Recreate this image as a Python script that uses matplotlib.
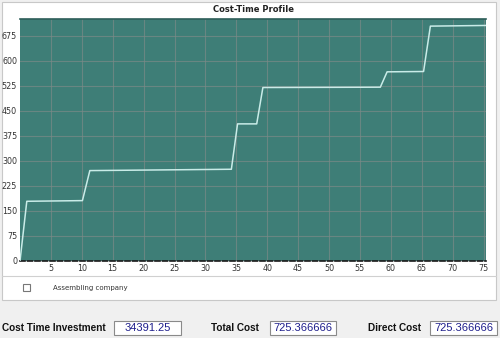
import matplotlib
matplotlib.use("Agg")
import matplotlib.pyplot as plt
from matplotlib.patches import Rectangle

# cost-time profile
days = [0, 1.1, 10.1, 11.3, 34.2, 35.2, 38.3, 39.3, 58.3, 59.4, 65.3, 66.4, 75.3]
cost = [0, 179, 181, 271, 275, 411, 411, 520, 521, 567, 568, 704, 706]
x_ticks = [5, 10, 15, 20, 25, 30, 35, 40, 45, 50, 55, 60, 65, 70, 75]
y_ticks = [0, 75, 150, 225, 300, 375, 450, 525, 600, 675]
series_name = "Assembling company"
summary_labels = ["Cost Time Investment", "Total Cost", "Direct Cost"]
summary_values = ["34391.25", "725.366666", "725.366666"]

W, H = 500, 338
fig = plt.figure(figsize=(W / 100, H / 100), dpi=100)
fig.patch.set_facecolor("#f0f0f0")

def px(x, y, w, h):
    # pixel box (top-left origin) -> figure fractions
    return (x / W, 1 - (y + h) / H, w / W, h / H)

# white panels: chart + legend
x0, y0, w0, h0 = px(2, 2, 494, 298)
fig.add_artist(Rectangle((x0, y0), w0, h0, transform=fig.transFigure,
                         facecolor="white", edgecolor="#c8c8c8", lw=0.8, zorder=-2))
fig.add_artist(plt.Line2D([2 / W, 496 / W], [1 - 276 / H] * 2, transform=fig.transFigure,
                          color="#d0d0d0", lw=0.8, zorder=-1))

ax = fig.add_axes(px(20, 19, 466, 242))
ax.set_facecolor("#3e7e77")
ax.plot(days, cost, color="#c9ece8", lw=1.1, zorder=3)
ax.set_xlim(0, 75.4)
ax.set_ylim(0, 725.37)
ax.set_xticks(x_ticks)
ax.set_yticks(y_ticks)
ax.grid(True, color="#7b8a88", lw=0.8, alpha=0.7)
ax.tick_params(length=0, labelsize=5.8, colors="#333333", pad=2)
for s in ["left", "right"]:
    ax.spines[s].set_visible(False)
ax.spines["top"].set_color("#2e5e59")
ax.spines["top"].set_linewidth(1.2)
ax.spines["bottom"].set_color("#1a1a1a")
ax.spines["bottom"].set_linestyle((0, (3, 1.5)))
ax.spines["bottom"].set_linewidth(1.2)
ax.set_title("Cost-Time Profile", fontsize=6, fontweight="bold", pad=5, color="#222222")

# legend checkbox
cx, cy, cw, ch = px(23, 284, 7, 7)
fig.add_artist(Rectangle((cx, cy), cw, ch, transform=fig.transFigure,
                         facecolor="white", edgecolor="#777777", lw=0.8))
fig.text(53 / W, 1 - 288 / H, series_name, fontsize=5, color="#333333", va="center")

# summary fields
label_x = [2, 211, 368]
box_x = [114, 270, 430]
box_w = [67, 66, 67]
for lab, val, lx, bx, bw in zip(summary_labels, summary_values, label_x, box_x, box_w):
    fig.text(lx / W, 1 - 328 / H, lab, fontsize=7.2, fontweight="bold",
             family="Liberation Sans", color="#111111", va="center")
    rx, ry, rw, rh = px(bx, 321, bw, 14)
    fig.add_artist(Rectangle((rx, ry), rw, rh, transform=fig.transFigure,
                             facecolor="white", edgecolor="#8a8a8a", lw=0.8))
    fig.text((bx + bw / 2) / W, 1 - 328 / H, val, fontsize=8, family="Liberation Sans",
             color="#1e1e8c", va="center", ha="center")

fig.savefig("out.png", dpi=100, facecolor=fig.get_facecolor())
